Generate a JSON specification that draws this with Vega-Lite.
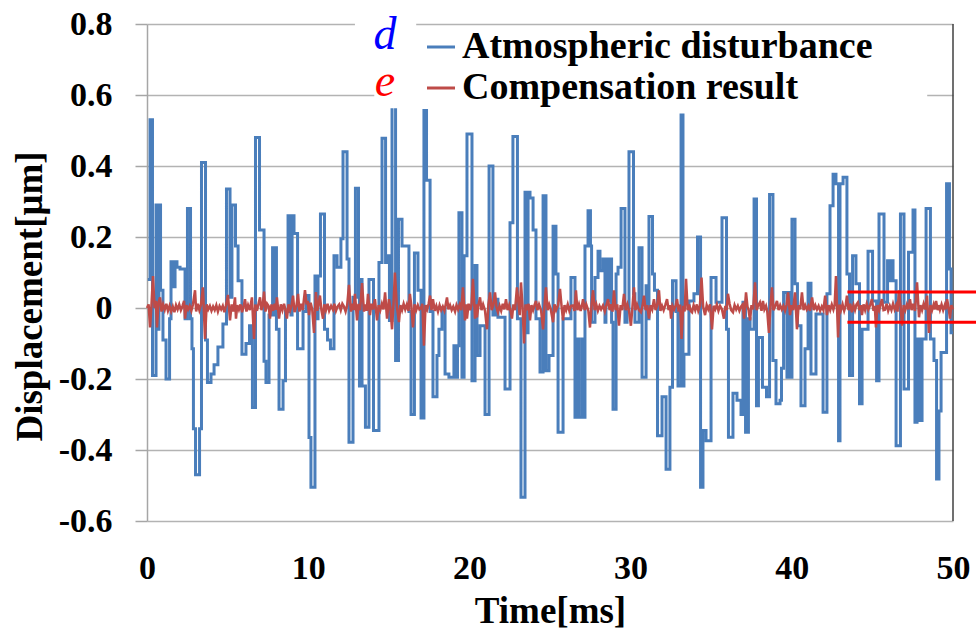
{
"$schema": "https://vega.github.io/schema/vega-lite/v6.json",
"width": 806, "height": 497,
"autosize": {"type": "none"},
"padding": {"left": 147, "top": 24, "right": 23, "bottom": 112},
"background": "white",
"config": {"view": {"stroke": null}, "font": "Liberation Serif"},
"datasets": {
"dist": [
{"t":0.05,"d":0.08},{"t":0.19,"d":0.53},{"t":0.34,"d":-0.19},{"t":0.56,"d":0.29},{"t":0.68,"d":-0.06},{"t":0.74,"d":0.29},{"t":0.84,"d":0.05},{"t":0.99,"d":-0.09},{"t":1.18,"d":-0.2},{"t":1.40,"d":-0.03},{"t":1.49,"d":0.13},{"t":1.64,"d":0.06},{"t":1.74,"d":0.13},{"t":1.86,"d":0.115},{"t":2.05,"d":0.11},{"t":2.36,"d":-0.03},{"t":2.51,"d":0.28},{"t":2.70,"d":-0.03},{"t":2.79,"d":-0.115},{"t":2.88,"d":-0.34},{"t":3.01,"d":-0.47},{"t":3.26,"d":-0.34},{"t":3.38,"d":0.41},{"t":3.63,"d":-0.09},{"t":3.75,"d":-0.21},{"t":3.97,"d":-0.186},{"t":4.16,"d":-0.16},{"t":4.40,"d":-0.11},{"t":4.71,"d":-0.045},{"t":4.93,"d":0.335},{"t":5.15,"d":0.03},{"t":5.27,"d":0.29},{"t":5.49,"d":0.175},{"t":5.65,"d":0.077},{"t":5.89,"d":-0.13},{"t":6.14,"d":-0.10},{"t":6.36,"d":-0.05},{"t":6.54,"d":-0.28},{"t":6.73,"d":0.48},{"t":6.98,"d":0.22},{"t":7.26,"d":-0.15},{"t":7.38,"d":-0.21},{"t":7.57,"d":-0.02},{"t":7.79,"d":0.17},{"t":7.91,"d":-0.02},{"t":7.97,"d":0.17},{"t":8.03,"d":-0.06},{"t":8.19,"d":-0.285},{"t":8.44,"d":-0.205},{"t":8.59,"d":-0.01},{"t":8.75,"d":0.26},{"t":8.93,"d":-0.02},{"t":9.00,"d":0.26},{"t":9.12,"d":0.21},{"t":9.34,"d":-0.115},{"t":9.68,"d":-0.01},{"t":9.86,"d":0.035},{"t":10.05,"d":-0.365},{"t":10.17,"d":-0.505},{"t":10.42,"d":0.09},{"t":10.55,"d":-0.03},{"t":10.61,"d":0.09},{"t":10.76,"d":0.265},{"t":11.01,"d":-0.06},{"t":11.20,"d":-0.09},{"t":11.38,"d":-0.115},{"t":11.60,"d":0.147},{"t":11.79,"d":0.115},{"t":12.03,"d":0.195},{"t":12.16,"d":0.44},{"t":12.41,"d":0.138},{"t":12.53,"d":-0.378},{"t":12.78,"d":0.03},{"t":12.93,"d":0.337},{"t":13.12,"d":0.03},{"t":13.18,"d":-0.22},{"t":13.28,"d":0.08},{"t":13.34,"d":-0.22},{"t":13.55,"d":-0.336},{"t":13.77,"d":0.08},{"t":14.05,"d":-0.345},{"t":14.39,"d":0.128},{"t":14.58,"d":0.478},{"t":14.80,"d":0.128},{"t":14.89,"d":0.147},{"t":15.04,"d":-0.035},{"t":15.20,"d":0.62},{"t":15.42,"d":-0.148},{"t":15.60,"d":0.25},{"t":15.82,"d":0.175},{"t":16.25,"d":-0.01},{"t":16.38,"d":-0.30},{"t":16.59,"d":0.155},{"t":16.81,"d":0.05},{"t":17.00,"d":-0.31},{"t":17.18,"d":0.62},{"t":17.34,"d":0.36},{"t":17.56,"d":-0.01},{"t":17.74,"d":-0.25},{"t":17.99,"d":-0.134},{"t":18.11,"d":-0.06},{"t":18.30,"d":0.0},{"t":18.49,"d":-0.186},{"t":18.73,"d":-0.195},{"t":19.04,"d":-0.106},{"t":19.17,"d":-0.195},{"t":19.26,"d":-0.106},{"t":19.35,"d":0.268},{"t":19.54,"d":-0.195},{"t":19.67,"d":0.147},{"t":19.85,"d":0.49},{"t":20.16,"d":-0.205},{"t":20.35,"d":0.12},{"t":20.47,"d":-0.134},{"t":20.66,"d":-0.05},{"t":20.97,"d":-0.30},{"t":21.22,"d":0.40},{"t":21.46,"d":-0.02},{"t":21.59,"d":0.025},{"t":21.77,"d":-0.026},{"t":22.21,"d":-0.228},{"t":22.52,"d":0.24},{"t":22.70,"d":0.483},{"t":22.98,"d":-0.03},{"t":23.20,"d":-0.533},{"t":23.45,"d":0.326},{"t":23.57,"d":-0.07},{"t":23.64,"d":0.326},{"t":23.76,"d":0.31},{"t":23.95,"d":0.22},{"t":24.13,"d":-0.03},{"t":24.38,"d":-0.18},{"t":24.57,"d":0.316},{"t":24.75,"d":-0.177},{"t":24.94,"d":-0.134},{"t":25.19,"d":0.23},{"t":25.37,"d":0.096},{"t":25.50,"d":-0.35},{"t":25.81,"d":-0.03},{"t":26.30,"d":0.086},{"t":26.55,"d":-0.308},{"t":26.68,"d":-0.087},{"t":26.80,"d":-0.308},{"t":26.99,"d":-0.087},{"t":27.08,"d":-0.308},{"t":27.17,"d":0.175},{"t":27.36,"d":0.274},{"t":27.51,"d":0.175},{"t":27.58,"d":-0.04},{"t":27.79,"d":0.086},{"t":27.98,"d":0.16},{"t":28.10,"d":0.105},{"t":28.29,"d":0.138},{"t":28.41,"d":-0.04},{"t":28.47,"d":0.138},{"t":28.60,"d":0.02},{"t":28.72,"d":0.138},{"t":28.82,"d":-0.04},{"t":28.91,"d":-0.285},{"t":29.10,"d":0.096},{"t":29.22,"d":0.115},{"t":29.41,"d":0.28},{"t":29.65,"d":-0.04},{"t":29.78,"d":-0.01},{"t":29.90,"d":0.44},{"t":30.18,"d":0.04},{"t":30.27,"d":-0.04},{"t":30.52,"d":0.17},{"t":30.71,"d":-0.195},{"t":30.96,"d":0.063},{"t":31.05,"d":-0.03},{"t":31.14,"d":0.258},{"t":31.36,"d":0.096},{"t":31.48,"d":0.05},{"t":31.67,"d":-0.36},{"t":31.95,"d":-0.25},{"t":32.20,"d":-0.454},{"t":32.44,"d":-0.223},{"t":32.60,"d":0.077},{"t":32.82,"d":-0.01},{"t":32.94,"d":-0.22},{"t":33.13,"d":0.544},{"t":33.25,"d":-0.22},{"t":33.31,"d":-0.13},{"t":33.62,"d":0.02},{"t":33.93,"d":0.04},{"t":34.15,"d":0.2},{"t":34.34,"d":-0.505},{"t":34.49,"d":-0.345},{"t":34.68,"d":-0.374},{"t":34.99,"d":0.086},{"t":35.30,"d":0.016},{"t":35.67,"d":0.254},{"t":35.95,"d":-0.06},{"t":36.07,"d":-0.364},{"t":36.35,"d":-0.24},{"t":36.60,"d":-0.26},{"t":36.85,"d":-0.30},{"t":36.97,"d":0.016},{"t":37.13,"d":-0.35},{"t":37.31,"d":-0.03},{"t":37.41,"d":-0.06},{"t":37.66,"d":0.307},{"t":37.81,"d":-0.275},{"t":37.93,"d":-0.083},{"t":38.18,"d":-0.223},{"t":38.43,"d":-0.25},{"t":38.62,"d":0.32},{"t":38.83,"d":-0.148},{"t":39.02,"d":-0.27},{"t":39.27,"d":-0.26},{"t":39.36,"d":-0.17},{"t":39.49,"d":0.044},{"t":39.70,"d":-0.195},{"t":39.80,"d":0.044},{"t":39.89,"d":-0.195},{"t":40.01,"d":0.25},{"t":40.20,"d":0.068},{"t":40.35,"d":-0.05},{"t":40.57,"d":-0.275},{"t":40.82,"d":-0.115},{"t":41.01,"d":0.07},{"t":41.19,"d":-0.186},{"t":41.50,"d":-0.017},{"t":41.94,"d":-0.294},{"t":42.18,"d":0.04},{"t":42.37,"d":0.288},{"t":42.56,"d":0.377},{"t":42.74,"d":0.35},{"t":42.90,"d":-0.374},{"t":42.99,"d":0.35},{"t":43.18,"d":0.368},{"t":43.42,"d":0.096},{"t":43.58,"d":-0.19},{"t":43.77,"d":0.147},{"t":43.98,"d":0.068},{"t":44.20,"d":-0.27},{"t":44.36,"d":-0.06},{"t":44.73,"d":0.16},{"t":45.01,"d":0.02},{"t":45.26,"d":-0.205},{"t":45.41,"d":0.265},{"t":45.72,"d":0.016},{"t":45.94,"d":0.133},{"t":46.09,"d":0.077},{"t":46.19,"d":0.133},{"t":46.28,"d":0.077},{"t":46.47,"d":-0.388},{"t":46.74,"d":0.265},{"t":46.96,"d":-0.228},{"t":47.24,"d":0.157},{"t":47.52,"d":0.276},{"t":47.64,"d":-0.322},{"t":47.77,"d":-0.087},{"t":47.95,"d":-0.317},{"t":48.08,"d":-0.087},{"t":48.33,"d":0.28},{"t":48.60,"d":-0.087},{"t":48.82,"d":-0.148},{"t":48.98,"d":-0.482},{"t":49.13,"d":-0.29},{"t":49.26,"d":-0.125},{"t":49.60,"d":0.35},{"t":49.78,"d":0.11},{"t":49.88,"d":-0.07},{"t":50.0,"d":-0.07}
],
"comp": [
{"t":0.0,"e":0.0},{"t":0.1,"e":0.01},{"t":0.19,"e":-0.055},{"t":0.28,"e":0.01},{"t":0.37,"e":0.09},{"t":0.47,"e":0.0},{"t":0.55,"e":0.02},{"t":0.62,"e":-0.055},{"t":0.71,"e":0.015},{"t":0.81,"e":0.03},{"t":0.9,"e":-0.01},{"t":1.0,"e":0.01},{"t":1.1,"e":-0.005},{"t":1.2,"e":0.012},{"t":1.3,"e":-0.008},{"t":1.4,"e":0.006},{"t":1.5,"e":-0.01},{"t":1.6,"e":0.004},{"t":1.7,"e":-0.012},{"t":1.8,"e":0.008},{"t":1.9,"e":-0.004},{"t":2.0,"e":0.01},{"t":2.1,"e":-0.006},{"t":2.2,"e":0.005},{"t":2.3,"e":0.02},{"t":2.36,"e":-0.03},{"t":2.45,"e":0.008},{"t":2.55,"e":-0.004},{"t":2.65,"e":0.006},{"t":2.75,"e":-0.008},{"t":2.85,"e":0.01},{"t":2.98,"e":0.05},{"t":3.05,"e":-0.01},{"t":3.15,"e":0.012},{"t":3.25,"e":-0.006},{"t":3.35,"e":0.01},{"t":3.47,"e":0.058},{"t":3.6,"e":-0.087},{"t":3.7,"e":0.01},{"t":3.8,"e":-0.004},{"t":3.9,"e":0.006},{"t":4.0,"e":-0.008},{"t":4.1,"e":0.004},{"t":4.2,"e":-0.006},{"t":4.3,"e":0.008},{"t":4.4,"e":-0.01},{"t":4.5,"e":0.005},{"t":4.6,"e":-0.004},{"t":4.7,"e":0.006},{"t":4.8,"e":-0.012},{"t":4.9,"e":0.008},{"t":5.02,"e":0.037},{"t":5.15,"e":-0.035},{"t":5.25,"e":0.01},{"t":5.35,"e":-0.01},{"t":5.46,"e":0.03},{"t":5.52,"e":-0.03},{"t":5.6,"e":0.008},{"t":5.7,"e":-0.005},{"t":5.8,"e":0.01},{"t":5.9,"e":-0.012},{"t":6.0,"e":0.006},{"t":6.08,"e":0.025},{"t":6.17,"e":-0.01},{"t":6.27,"e":0.008},{"t":6.38,"e":-0.006},{"t":6.51,"e":0.03},{"t":6.64,"e":-0.087},{"t":6.72,"e":0.01},{"t":6.82,"e":-0.008},{"t":6.92,"e":0.012},{"t":7.01,"e":0.03},{"t":7.1,"e":-0.006},{"t":7.18,"e":0.008},{"t":7.26,"e":0.046},{"t":7.35,"e":-0.01},{"t":7.45,"e":0.012},{"t":7.55,"e":0.005},{"t":7.63,"e":-0.03},{"t":7.72,"e":0.01},{"t":7.82,"e":-0.008},{"t":7.92,"e":0.012},{"t":8.0,"e":-0.005},{"t":8.06,"e":0.03},{"t":8.19,"e":-0.03},{"t":8.3,"e":0.01},{"t":8.4,"e":-0.006},{"t":8.5,"e":0.012},{"t":8.6,"e":-0.008},{"t":8.68,"e":-0.03},{"t":8.78,"e":0.01},{"t":8.88,"e":-0.006},{"t":8.97,"e":0.008},{"t":9.06,"e":0.035},{"t":9.15,"e":-0.012},{"t":9.27,"e":0.006},{"t":9.37,"e":0.04},{"t":9.46,"e":-0.01},{"t":9.56,"e":0.012},{"t":9.66,"e":-0.006},{"t":9.8,"e":0.05},{"t":9.9,"e":0.01},{"t":9.97,"e":0.02},{"t":10.05,"e":-0.02},{"t":10.15,"e":0.015},{"t":10.25,"e":-0.004},{"t":10.36,"e":-0.07},{"t":10.48,"e":0.045},{"t":10.56,"e":-0.008},{"t":10.64,"e":0.01},{"t":10.73,"e":0.035},{"t":10.82,"e":-0.006},{"t":10.92,"e":-0.03},{"t":11.0,"e":0.01},{"t":11.1,"e":-0.006},{"t":11.2,"e":0.012},{"t":11.3,"e":-0.008},{"t":11.42,"e":0.006},{"t":11.54,"e":-0.005},{"t":11.62,"e":0.012},{"t":11.72,"e":-0.008},{"t":11.82,"e":0.004},{"t":11.92,"e":0.01},{"t":12.02,"e":-0.006},{"t":12.12,"e":0.012},{"t":12.22,"e":0.004},{"t":12.32,"e":-0.01},{"t":12.42,"e":0.008},{"t":12.53,"e":0.065},{"t":12.65,"e":-0.01},{"t":12.75,"e":0.012},{"t":12.82,"e":-0.006},{"t":12.9,"e":0.04},{"t":13.03,"e":-0.035},{"t":13.12,"e":0.012},{"t":13.22,"e":-0.006},{"t":13.34,"e":0.07},{"t":13.46,"e":-0.01},{"t":13.55,"e":0.01},{"t":13.63,"e":-0.008},{"t":13.71,"e":0.04},{"t":13.83,"e":-0.02},{"t":13.92,"e":0.012},{"t":14.02,"e":-0.004},{"t":14.14,"e":0.025},{"t":14.27,"e":-0.035},{"t":14.37,"e":0.008},{"t":14.47,"e":-0.006},{"t":14.57,"e":0.012},{"t":14.67,"e":-0.004},{"t":14.77,"e":0.044},{"t":14.89,"e":-0.03},{"t":15.01,"e":0.025},{"t":15.1,"e":0.0},{"t":15.2,"e":-0.06},{"t":15.29,"e":0.01},{"t":15.38,"e":0.1},{"t":15.5,"e":0.005},{"t":15.63,"e":-0.04},{"t":15.72,"e":0.008},{"t":15.82,"e":-0.006},{"t":15.92,"e":0.012},{"t":16.02,"e":-0.004},{"t":16.12,"e":0.01},{"t":16.22,"e":-0.008},{"t":16.31,"e":0.04},{"t":16.4,"e":0.005},{"t":16.5,"e":-0.055},{"t":16.6,"e":0.01},{"t":16.7,"e":-0.006},{"t":16.8,"e":0.008},{"t":16.9,"e":-0.004},{"t":17.0,"e":0.0},{"t":17.08,"e":0.012},{"t":17.18,"e":-0.106},{"t":17.28,"e":0.008},{"t":17.38,"e":-0.004},{"t":17.47,"e":0.012},{"t":17.56,"e":0.035},{"t":17.65,"e":-0.006},{"t":17.74,"e":0.025},{"t":17.85,"e":-0.008},{"t":17.95,"e":0.006},{"t":18.05,"e":-0.01},{"t":18.15,"e":0.008},{"t":18.25,"e":-0.006},{"t":18.35,"e":0.004},{"t":18.45,"e":-0.008},{"t":18.53,"e":0.01},{"t":18.61,"e":0.03},{"t":18.7,"e":-0.004},{"t":18.8,"e":0.008},{"t":18.9,"e":-0.006},{"t":19.0,"e":0.004},{"t":19.11,"e":-0.01},{"t":19.2,"e":0.008},{"t":19.3,"e":-0.004},{"t":19.4,"e":0.01},{"t":19.5,"e":-0.006},{"t":19.6,"e":0.058},{"t":19.73,"e":-0.035},{"t":19.79,"e":0.01},{"t":19.85,"e":-0.03},{"t":19.95,"e":0.012},{"t":20.05,"e":-0.006},{"t":20.13,"e":0.01},{"t":20.22,"e":0.082},{"t":20.35,"e":-0.03},{"t":20.41,"e":0.01},{"t":20.47,"e":-0.026},{"t":20.56,"e":0.008},{"t":20.66,"e":0.03},{"t":20.75,"e":-0.006},{"t":20.85,"e":0.01},{"t":20.97,"e":-0.008},{"t":21.09,"e":-0.06},{"t":21.18,"e":0.01},{"t":21.28,"e":0.044},{"t":21.38,"e":-0.006},{"t":21.48,"e":0.008},{"t":21.59,"e":0.044},{"t":21.68,"e":0.002},{"t":21.77,"e":-0.012},{"t":21.87,"e":0.006},{"t":21.97,"e":-0.008},{"t":22.07,"e":0.012},{"t":22.17,"e":-0.004},{"t":22.27,"e":0.025},{"t":22.37,"e":-0.006},{"t":22.47,"e":0.008},{"t":22.56,"e":-0.01},{"t":22.64,"e":-0.03},{"t":22.73,"e":0.01},{"t":22.83,"e":-0.006},{"t":22.95,"e":0.058},{"t":23.05,"e":0.01},{"t":23.12,"e":-0.02},{"t":23.2,"e":0.072},{"t":23.3,"e":0.0},{"t":23.39,"e":-0.1},{"t":23.48,"e":0.01},{"t":23.58,"e":-0.006},{"t":23.67,"e":0.012},{"t":23.76,"e":-0.035},{"t":23.85,"e":0.008},{"t":23.95,"e":-0.006},{"t":24.04,"e":0.008},{"t":24.13,"e":0.02},{"t":24.22,"e":-0.006},{"t":24.32,"e":0.01},{"t":24.45,"e":-0.008},{"t":24.57,"e":-0.06},{"t":24.66,"e":0.008},{"t":24.75,"e":0.058},{"t":24.85,"e":-0.006},{"t":24.95,"e":0.01},{"t":25.05,"e":-0.004},{"t":25.19,"e":-0.04},{"t":25.28,"e":0.01},{"t":25.38,"e":-0.006},{"t":25.5,"e":0.008},{"t":25.62,"e":0.054},{"t":25.72,"e":0.004},{"t":25.81,"e":-0.035},{"t":25.9,"e":0.008},{"t":26.0,"e":-0.006},{"t":26.1,"e":0.01},{"t":26.2,"e":-0.008},{"t":26.3,"e":0.006},{"t":26.43,"e":0.007},{"t":26.52,"e":-0.008},{"t":26.61,"e":0.05},{"t":26.7,"e":-0.006},{"t":26.8,"e":0.01},{"t":26.9,"e":-0.008},{"t":26.98,"e":0.006},{"t":27.05,"e":0.025},{"t":27.15,"e":-0.006},{"t":27.25,"e":0.01},{"t":27.38,"e":-0.008},{"t":27.48,"e":-0.055},{"t":27.58,"e":0.01},{"t":27.67,"e":0.05},{"t":27.77,"e":-0.006},{"t":27.87,"e":0.01},{"t":27.97,"e":-0.008},{"t":28.07,"e":0.006},{"t":28.17,"e":-0.004},{"t":28.29,"e":0.007},{"t":28.4,"e":-0.01},{"t":28.5,"e":0.008},{"t":28.6,"e":0.025},{"t":28.7,"e":-0.006},{"t":28.8,"e":0.01},{"t":28.88,"e":-0.01},{"t":28.97,"e":0.05},{"t":29.07,"e":-0.006},{"t":29.17,"e":0.01},{"t":29.28,"e":-0.05},{"t":29.38,"e":0.008},{"t":29.48,"e":-0.006},{"t":29.59,"e":0.04},{"t":29.7,"e":-0.006},{"t":29.8,"e":0.01},{"t":29.9,"e":-0.008},{"t":30.02,"e":-0.05},{"t":30.12,"e":0.006},{"t":30.21,"e":0.058},{"t":30.3,"e":-0.006},{"t":30.4,"e":0.01},{"t":30.52,"e":-0.006},{"t":30.64,"e":-0.012},{"t":30.74,"e":0.006},{"t":30.83,"e":0.035},{"t":30.93,"e":-0.006},{"t":31.03,"e":0.008},{"t":31.14,"e":-0.03},{"t":31.24,"e":0.008},{"t":31.34,"e":-0.004},{"t":31.45,"e":0.025},{"t":31.55,"e":-0.006},{"t":31.65,"e":0.008},{"t":31.76,"e":0.05},{"t":31.85,"e":-0.008},{"t":31.95,"e":0.006},{"t":32.05,"e":-0.006},{"t":32.15,"e":0.008},{"t":32.26,"e":0.025},{"t":32.36,"e":-0.006},{"t":32.44,"e":0.008},{"t":32.51,"e":-0.03},{"t":32.6,"e":0.006},{"t":32.7,"e":-0.004},{"t":32.8,"e":0.008},{"t":32.88,"e":0.025},{"t":32.98,"e":-0.01},{"t":33.07,"e":0.01},{"t":33.16,"e":-0.087},{"t":33.26,"e":0.006},{"t":33.35,"e":-0.01},{"t":33.44,"e":0.082},{"t":33.54,"e":-0.006},{"t":33.64,"e":0.01},{"t":33.72,"e":-0.008},{"t":33.81,"e":-0.012},{"t":33.91,"e":0.008},{"t":34.01,"e":-0.006},{"t":34.11,"e":0.01},{"t":34.2,"e":-0.008},{"t":34.3,"e":0.006},{"t":34.4,"e":0.086},{"t":34.5,"e":0.004},{"t":34.62,"e":-0.02},{"t":34.72,"e":0.008},{"t":34.82,"e":-0.004},{"t":34.93,"e":0.01},{"t":35.05,"e":-0.06},{"t":35.15,"e":0.006},{"t":35.25,"e":-0.004},{"t":35.35,"e":0.01},{"t":35.45,"e":-0.008},{"t":35.55,"e":0.006},{"t":35.67,"e":-0.004},{"t":35.79,"e":-0.03},{"t":35.88,"e":0.006},{"t":35.96,"e":-0.006},{"t":36.04,"e":0.04},{"t":36.14,"e":0.012},{"t":36.24,"e":-0.006},{"t":36.35,"e":-0.012},{"t":36.45,"e":0.008},{"t":36.55,"e":-0.004},{"t":36.65,"e":0.006},{"t":36.75,"e":-0.008},{"t":36.85,"e":0.004},{"t":36.95,"e":0.01},{"t":37.04,"e":-0.03},{"t":37.16,"e":0.044},{"t":37.25,"e":0.004},{"t":37.32,"e":-0.006},{"t":37.41,"e":-0.035},{"t":37.5,"e":0.008},{"t":37.6,"e":-0.004},{"t":37.72,"e":0.072},{"t":37.82,"e":-0.006},{"t":37.92,"e":0.008},{"t":38.02,"e":0.016},{"t":38.12,"e":-0.008},{"t":38.21,"e":0.02},{"t":38.3,"e":-0.004},{"t":38.4,"e":0.006},{"t":38.48,"e":-0.01},{"t":38.58,"e":-0.07},{"t":38.68,"e":0.006},{"t":38.77,"e":0.058},{"t":38.86,"e":-0.006},{"t":38.96,"e":0.004},{"t":39.08,"e":0.02},{"t":39.18,"e":-0.006},{"t":39.28,"e":0.008},{"t":39.38,"e":-0.004},{"t":39.48,"e":0.006},{"t":39.58,"e":-0.008},{"t":39.68,"e":0.01},{"t":39.77,"e":0.044},{"t":39.89,"e":-0.02},{"t":39.98,"e":0.008},{"t":40.08,"e":-0.006},{"t":40.2,"e":0.044},{"t":40.32,"e":-0.06},{"t":40.42,"e":0.008},{"t":40.52,"e":-0.004},{"t":40.63,"e":0.044},{"t":40.73,"e":-0.006},{"t":40.83,"e":0.008},{"t":40.93,"e":-0.004},{"t":41.03,"e":0.006},{"t":41.13,"e":-0.008},{"t":41.26,"e":0.03},{"t":41.36,"e":-0.006},{"t":41.46,"e":0.008},{"t":41.56,"e":-0.004},{"t":41.66,"e":0.006},{"t":41.76,"e":-0.008},{"t":41.86,"e":0.004},{"t":41.96,"e":-0.006},{"t":42.07,"e":0.035},{"t":42.18,"e":-0.02},{"t":42.28,"e":0.008},{"t":42.38,"e":-0.006},{"t":42.48,"e":0.01},{"t":42.58,"e":-0.004},{"t":42.66,"e":0.01},{"t":42.74,"e":0.09},{"t":42.87,"e":-0.083},{"t":42.96,"e":0.01},{"t":43.05,"e":-0.006},{"t":43.15,"e":0.01},{"t":43.25,"e":-0.008},{"t":43.34,"e":0.006},{"t":43.42,"e":0.035},{"t":43.52,"e":-0.006},{"t":43.62,"e":0.012},{"t":43.73,"e":-0.012},{"t":43.83,"e":0.008},{"t":43.92,"e":-0.006},{"t":44.01,"e":0.01},{"t":44.1,"e":0.016},{"t":44.2,"e":-0.006},{"t":44.28,"e":0.008},{"t":44.35,"e":-0.02},{"t":44.45,"e":0.01},{"t":44.55,"e":-0.006},{"t":44.65,"e":0.012},{"t":44.75,"e":-0.004},{"t":44.86,"e":0.008},{"t":44.97,"e":0.025},{"t":45.07,"e":-0.008},{"t":45.15,"e":0.006},{"t":45.22,"e":-0.055},{"t":45.32,"e":0.008},{"t":45.42,"e":-0.006},{"t":45.5,"e":0.01},{"t":45.59,"e":0.025},{"t":45.69,"e":-0.006},{"t":45.78,"e":-0.005},{"t":45.88,"e":0.012},{"t":45.98,"e":-0.008},{"t":46.08,"e":0.006},{"t":46.18,"e":-0.006},{"t":46.28,"e":0.012},{"t":46.38,"e":-0.004},{"t":46.48,"e":0.008},{"t":46.56,"e":-0.01},{"t":46.65,"e":0.05},{"t":46.75,"e":0.004},{"t":46.84,"e":-0.05},{"t":46.94,"e":0.008},{"t":47.04,"e":-0.006},{"t":47.14,"e":0.01},{"t":47.24,"e":-0.004},{"t":47.33,"e":0.025},{"t":47.43,"e":-0.006},{"t":47.53,"e":0.012},{"t":47.64,"e":-0.008},{"t":47.77,"e":0.072},{"t":47.89,"e":-0.026},{"t":47.98,"e":0.008},{"t":48.08,"e":-0.006},{"t":48.18,"e":0.012},{"t":48.28,"e":-0.004},{"t":48.39,"e":0.035},{"t":48.51,"e":-0.07},{"t":48.6,"e":0.008},{"t":48.7,"e":-0.006},{"t":48.8,"e":0.01},{"t":48.88,"e":-0.004},{"t":48.95,"e":0.02},{"t":49.05,"e":-0.006},{"t":49.12,"e":0.008},{"t":49.19,"e":-0.005},{"t":49.29,"e":0.01},{"t":49.39,"e":-0.006},{"t":49.49,"e":0.008},{"t":49.56,"e":-0.004},{"t":49.63,"e":0.025},{"t":49.72,"e":0.004},{"t":49.81,"e":-0.03},{"t":49.9,"e":0.008},{"t":50.0,"e":-0.004}
]
},
"layer": [
{
"data": {"values": [{}]},
"mark": {"type": "rule", "color": "#404040", "strokeWidth": 1.5},
"encoding": {"x": {"datum": 50, "type": "quantitative"}, "y": {"datum": -0.6, "type": "quantitative"}, "y2": {"datum": 0.8}}
},
{
"data": {"name": "dist"},
"mark": {"type": "line", "interpolate": "step-after", "strokeWidth": 3},
"encoding": {
"x": {"field": "t", "type": "quantitative", "scale": {"domain": [0, 50], "nice": false, "zero": false},
"axis": {"values": [0, 10, 20, 30, 40, 50], "grid": false, "ticks": false, "tickSize": 0, "domain": false,
"labelFont": "Liberation Serif", "labelFontWeight": "bold", "labelFontSize": 34, "labelColor": "black",
"labelPadding": 57, "labelBaseline": "alphabetic", "labelFlush": false, "labelOverlap": false,
"title": "Time[ms]", "titleFont": "Liberation Serif", "titleFontSize": 37, "titleFontWeight": "bold", "titleColor": "black",
"titleBaseline": "alphabetic", "titleY": 101}},
"y": {"field": "d", "type": "quantitative", "scale": {"domain": [-0.6, 0.8], "nice": false, "zero": false},
"axis": {"values": [-0.6, -0.4, -0.2, 0, 0.2, 0.4, 0.6, 0.8], "grid": true, "gridColor": "#b3b3b3", "gridWidth": 1.5,
"domainColor": "#a6a6a6", "domainWidth": 1.5, "tickColor": "#a6a6a6", "tickSize": 12, "tickWidth": 1.5,
"labelPadding": 23, "labelFont": "Liberation Serif", "labelFontWeight": "bold", "labelFontSize": 34, "labelColor": "black",
"labelExpr": "datum.value == 0 ? '0' : (datum.value < 0 ? '-' + format(-datum.value, '.1f') : format(datum.value, '.1f'))",
"title": "Displacement[μm]", "titleFont": "Liberation Serif", "titleFontSize": 37, "titleFontWeight": "bold", "titleColor": "black",
"titleX": -117, "titleY": 272, "titleAngle": -90, "titleAlign": "center", "titleBaseline": "middle"}},
"color": {"datum": "Atmospheric disturbance",
"scale": {"domain": ["Atmospheric disturbance", "Compensation result"], "range": ["#4A7EBB", "#BE4B48"]},
"legend": {"title": null, "orient": "none", "legendX": 273, "legendY": 2, "symbolType": "stroke", "symbolSize": 784,
"symbolStrokeWidth": 3, "labelFont": "Liberation Serif", "labelFontSize": 38, "labelFontWeight": "bold", "labelColor": "black",
"labelOffset": 2, "rowPadding": 3, "padding": 2, "fillColor": "white", "strokeColor": null, "labelLimit": 1000}}
}
},
{
"data": {"name": "comp"},
"mark": {"type": "line", "strokeWidth": 2.5},
"encoding": {
"x": {"field": "t", "type": "quantitative"},
"y": {"field": "e", "type": "quantitative"},
"color": {"datum": "Compensation result"}
}
},
{
"data": {"values": [{}]},
"mark": {"type": "rect", "color": "white"},
"encoding": {"x": {"datum": 12.9, "type": "quantitative"}, "x2": {"datum": 16.7}, "y": {"datum": 0.79, "type": "quantitative"}, "y2": {"datum": 0.85}}
},
{
"data": {"values": [{}]},
"mark": {"type": "rect", "color": "white"},
"encoding": {"x": {"datum": 14.1, "type": "quantitative"}, "x2": {"datum": 48.4}, "y": {"datum": 0.563, "type": "quantitative"}, "y2": {"datum": 0.79}}
},
{
"data": {"values": [{"lbl": "d"}]},
"mark": {"type": "text", "font": "Liberation Serif", "fontStyle": "italic", "fontSize": 46, "align": "center", "baseline": "alphabetic", "color": "#0000FF"},
"encoding": {"x": {"datum": 14.76, "type": "quantitative"}, "y": {"datum": 0.73, "type": "quantitative"}, "text": {"field": "lbl"}}
},
{
"data": {"values": [{"lbl": "e"}]},
"mark": {"type": "text", "font": "Liberation Serif", "fontStyle": "italic", "fontSize": 46, "align": "center", "baseline": "alphabetic", "color": "#FF0000"},
"encoding": {"x": {"datum": 14.76, "type": "quantitative"}, "y": {"datum": 0.597, "type": "quantitative"}, "text": {"field": "lbl"}}
},
{
"data": {"values": [{"lvl": 0.045}, {"lvl": -0.04}]},
"mark": {"type": "rule", "color": "#FF0000", "strokeWidth": 3},
"encoding": {"x": {"datum": 43.45, "type": "quantitative"}, "x2": {"datum": 52}, "y": {"field": "lvl", "type": "quantitative"}}
}
]
}
